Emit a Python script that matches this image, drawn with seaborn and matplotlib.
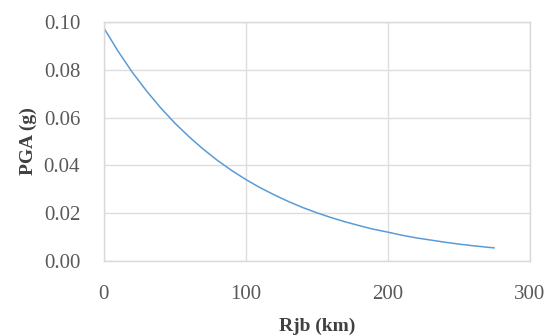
import numpy as np
import pandas as pd
import matplotlib
matplotlib.use("Agg")
import matplotlib.pyplot as plt
import seaborn as sns

# Data
rjb_km = [0, 10, 20, 30, 40, 50, 60, 70, 80, 90, 100, 110, 120, 130, 140, 150,
          160, 170, 180, 190, 200, 210, 220, 230, 240, 250, 260, 270, 275]
pga_g = [0.0975, 0.0878, 0.0790, 0.0712, 0.0641, 0.0577, 0.0520, 0.0468, 0.0421,
         0.0379, 0.0341, 0.0307, 0.0277, 0.0249, 0.0224, 0.0202, 0.0182, 0.0164,
         0.0148, 0.0133, 0.0121, 0.0108, 0.0097, 0.0088, 0.0079, 0.0071, 0.0064,
         0.0058, 0.0055]
x_ticks = [0, 100, 200, 300]
y_ticks = [0.00, 0.02, 0.04, 0.06, 0.08, 0.10]
x_label = "Rjb (km)"
y_label = "PGA (g)"

df = pd.DataFrame({"Rjb": rjb_km, "PGA": pga_g})

sns.set_style("whitegrid")
plt.rcParams['font.family'] = ['Liberation Serif', 'DejaVu Serif']

fig = plt.figure(figsize=(5.49, 3.36), dpi=100)
ax = fig.add_axes([0.189, 0.223, 0.776, 0.712])

sns.lineplot(data=df, x="Rjb", y="PGA", ax=ax, color="#5B9BD5", linewidth=1.1)

ax.set_xlim(0, 300)
ax.set_ylim(0, 0.10)
ax.set_xticks(x_ticks)
ax.set_yticks(y_ticks)
ax.set_xticklabels([f"{v:d}" for v in x_ticks])
ax.set_yticklabels([f"{v:.2f}" for v in y_ticks])

ax.grid(True, color="#dedede", linewidth=1.0)
for s in ax.spines.values():
    s.set_visible(True)
    s.set_color("#d9d9d9")
    s.set_linewidth(1.0)

ax.tick_params(axis='x', length=0, pad=17, labelsize=15, labelcolor="#595959")
ax.tick_params(axis='y', length=0, pad=17, labelsize=15, labelcolor="#595959")

ax.set_xlabel(x_label, fontsize=14, fontweight="bold", color="#404040", labelpad=10)
ax.set_ylabel(y_label, fontsize=14, fontweight="bold", color="#404040", labelpad=5)

fig.savefig("out.png", dpi=100, facecolor="white")
